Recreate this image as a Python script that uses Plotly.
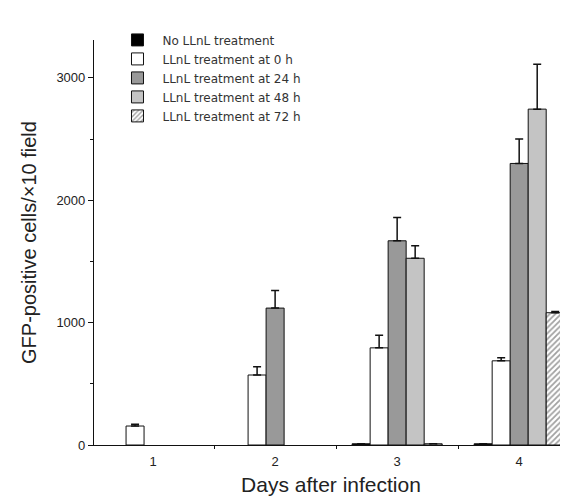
import plotly.graph_objects as go

days = ["1", "2", "3", "4"]
series_names = [
    "No LLnL treatment",
    "LLnL treatment at 0 h",
    "LLnL treatment at 24 h",
    "LLnL treatment at 48 h",
    "LLnL treatment at 72 h",
]
no_treat = [None, None, 10, 10]
no_treat_err = [0, 0, 0, 0]
treat_0h = [155, 572, 794, 688]
treat_0h_err = [15, 68, 103, 25]
treat_24h = [None, 1119, 1669, 2301]
treat_24h_err = [0, 144, 190, 200]
treat_48h = [None, None, 1526, 2745]
treat_48h_err = [0, 0, 102, 366]
treat_72h = [None, None, 10, 1081]
treat_72h_err = [0, 0, 0, 11]

values = [no_treat, treat_0h, treat_24h, treat_48h, treat_72h]
errors = [no_treat_err, treat_0h_err, treat_24h_err, treat_48h_err, treat_72h_err]
fills = ["#000000", "#ffffff", "#999999", "#c4c4c4", "#ffffff"]

fig = go.Figure()
for i, (name, v, e, c) in enumerate(zip(series_names, values, errors, fills)):
    marker = dict(color=c, line=dict(color="#111111", width=1))
    if i == 4:
        marker["pattern"] = dict(shape="/", fgcolor="#444444", bgcolor="#ffffff",
                                 size=4, solidity=0.45)
    fig.add_trace(go.Bar(
        x=days, y=v, name=name, marker=marker,
        error_y=dict(type="data", array=e, arrayminus=[0] * len(e), symmetric=False,
                     color="#111111", thickness=1.5, width=4, visible=True),
    ))

fig.update_layout(
    width=560, height=488,
    margin=dict(l=86, r=0, t=32, b=49),
    paper_bgcolor="white", plot_bgcolor="white",
    barmode="group", bargap=0.262, bargroupgap=0,
    font=dict(family="Liberation Sans, Arial, sans-serif", color="#222222"),
    showlegend=True,
    legend=dict(x=0.039, y=1.036, xanchor="left", yanchor="top",
                font=dict(family="DejaVu Sans, sans-serif", size=12, color="#333333"),
                bgcolor="rgba(0,0,0,0)", tracegroupgap=0, itemwidth=40),
)
fig.update_xaxes(
    type="category", range=[-0.484, 3.40],
    showline=True, linecolor="#111111", linewidth=1.2,
    ticks="outside", tickson="boundaries", ticklen=3, tickcolor="#111111",
    ticklabelstandoff=4,
    tickfont=dict(size=13), showgrid=False, zeroline=False,
    title=dict(text="Days after infection", font=dict(size=21), standoff=13),
)
fig.update_yaxes(
    range=[0, 3310], tickvals=[0, 1000, 2000, 3000],
    showline=True, linecolor="#111111", linewidth=1.2,
    ticks="outside", ticklen=5, tickcolor="#111111",
    minor=dict(tickvals=[500, 1500, 2500], ticks="outside", ticklen=3, tickcolor="#111111"),
    tickfont=dict(size=13), showgrid=False, zeroline=False,
    title=dict(text="GFP-positive cells/×10 field", font=dict(size=20), standoff=14),
)

fig.write_html("out.html")
